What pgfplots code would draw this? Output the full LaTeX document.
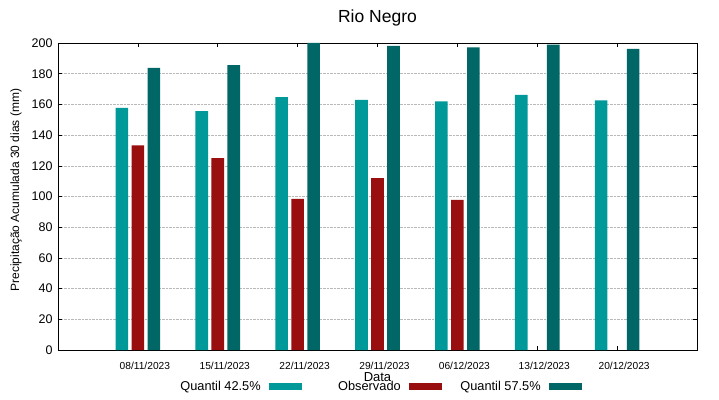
\documentclass[border=0pt]{standalone}
\usepackage{pgfplots}
\pgfplotsset{compat=1.18}
\usepackage{fontspec}
\setmainfont{Liberation Sans}
\definecolor{qlow}{RGB}{0,153,153}
\definecolor{obs}{RGB}{153,14,14}
\definecolor{qhigh}{RGB}{0,102,102}
\begin{document}
\begin{tikzpicture}
\useasboundingbox (0,0) rectangle (719pt,399pt);
\begin{axis}[
  at={(58pt,49pt)}, anchor=south west,
  scale only axis, width=639pt, height=307pt,
  xmin=-1, xmax=7, ymin=0, ymax=200,
  xtick={0,1,2,3,4,5,6},
  xticklabels={08/11/2023,15/11/2023,22/11/2023,29/11/2023,06/12/2023,13/12/2023,20/12/2023},
  ytick={0,20,40,60,80,100,120,140,160,180,200},
  xtick pos=both, ytick pos=both,
  xticklabel pos=lower, yticklabel pos=left,
  tick align=inside, major tick length=4pt,
  tick style={black, line width=0.6pt},
  axis line style={black, line width=0.8pt},
  ymajorgrids, major grid style={densely dotted, gray!55, line width=0.6pt},
  /pgf/number format/assume math mode=true,
  xticklabel style={font=\fontsize{10.2}{12}\selectfont, yshift=-9pt, xshift=7pt},
  yticklabel style={font=\fontsize{12.5}{14}\selectfont, xshift=-2pt},
  title={Rio Negro},
  title style={at={(axis description cs:0.5,1.062)}, anchor=center, yshift=0pt, font=\fontsize{17.5}{20}\selectfont},
  xlabel={Data},
  xlabel style={at={(axis description cs:0.5,-0.088)}, anchor=center, font=\fontsize{13}{15}\selectfont},
  ylabel={Precipitação Acumulada 30 dias (mm)},
  ylabel style={at={(axis description cs:-0.0657,0.521)}, anchor=center, rotate=0, font=\fontsize{12}{14}\selectfont},
  legend columns=3,
  legend plot pos=right,
  legend style={at={(axis description cs:0.491,-0.1205)}, anchor=center, draw=none, fill=none,
    inner sep=0pt, font=\fontsize{12.8}{15}\selectfont,
    nodes={inner sep=0pt},
    /tikz/every even column/.append style={column sep=0pt},
    /tikz/every odd column/.append style={column sep=0pt}},
]
\addplot[ybar, bar width=12.7pt, bar shift=-16pt, fill=qlow, draw=none,
  legend image code/.code={\path (0pt,0pt); \fill[qlow] (8pt,-3.5pt) rectangle (41pt,3.5pt);}]
  coordinates {(0,157.8) (1,155.6) (2,164.7) (3,162.9) (4,162.0) (5,166.2) (6,162.7)};
\addplot[ybar, bar width=12.7pt, bar shift=0pt, fill=obs, draw=none,
  legend image code/.code={\path (0pt,0pt); \fill[obs] (8pt,-3.5pt) rectangle (41pt,3.5pt);}]
  coordinates {(0,133.3) (1,125.0) (2,98.5) (3,112.0) (4,97.8)};
\addplot[ybar, bar width=12.7pt, bar shift=16pt, fill=qhigh, draw=none,
  legend image code/.code={\path (0pt,0pt); \fill[qhigh] (8pt,-3.5pt) rectangle (41pt,3.5pt);}]
  coordinates {(0,183.8) (1,185.6) (2,200) (3,198.2) (4,197.1) (5,198.9) (6,196.2)};
\legend{\makebox[99pt][r]{Quantil 42.5\%},\makebox[99pt][r]{Observado},\makebox[99pt][r]{Quantil 57.5\%}}
\end{axis}
\end{tikzpicture}
\end{document}
